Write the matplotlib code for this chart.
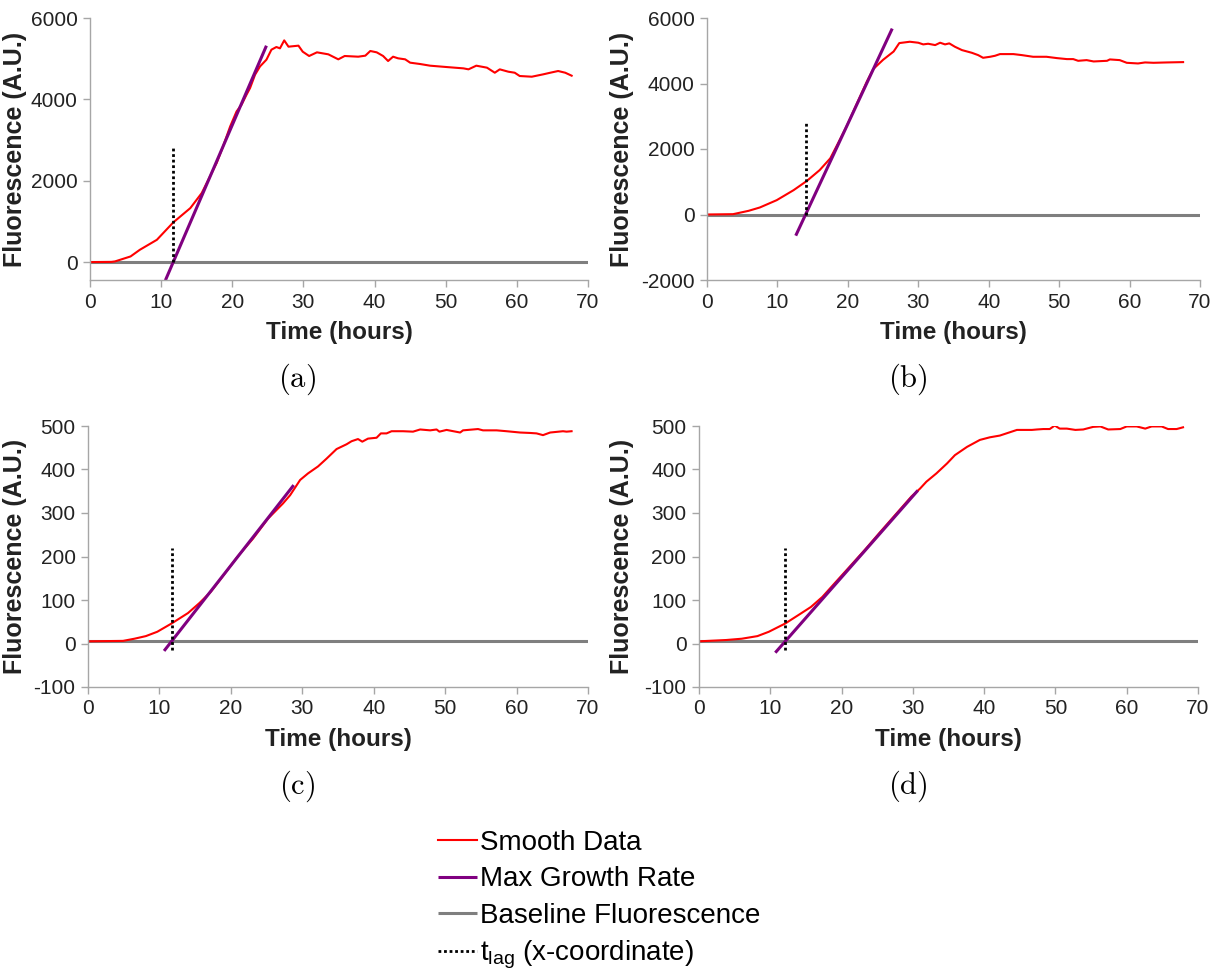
import matplotlib
matplotlib.use("Agg")
import matplotlib.pyplot as plt
import numpy as np

plt.rcParams["font.family"] = ["Liberation Sans", "DejaVu Sans"]
plt.rcParams["axes.unicode_minus"] = False

# smoothed fluorescence traces, read per panel (time in hours, A.U.)
time_a = [0, 3, 3.5, 5.7, 7.0, 9.4, 11.7, 14.1, 15.7, 17.1, 17.8, 18.7, 19.7, 20.6,
          21.3, 22.0, 22.5, 23.2, 23.9, 24.8, 25.5, 26.2, 26.7, 27.3, 27.9, 29.3,
          29.9, 30.8, 31.9, 33.5, 34.9, 35.8, 37.7, 38.7, 39.4, 40.3, 41.2, 41.9,
          42.6, 43.3, 44.3, 45.0, 46.4, 47.8, 50.1, 52.5, 53.2, 54.3, 55.8, 56.9,
          57.6, 58.8, 59.7, 60.4, 62.1, 63.7, 64.7, 65.8, 66.8, 67.7]
fluor_a = [0, 5, 16, 139, 302, 548, 975, 1327, 1696, 2188, 2434, 2843, 3334, 3703,
           3868, 4114, 4279, 4606, 4810, 4975, 5221, 5287, 5254, 5450, 5295, 5320,
           5172, 5066, 5156, 5107, 4984, 5066, 5049, 5074, 5189, 5156, 5066, 4943,
           5049, 5009, 4984, 4902, 4869, 4828, 4795, 4762, 4738, 4828, 4779, 4655,
           4738, 4680, 4655, 4574, 4557, 4615, 4655, 4697, 4655, 4582]

time_b = [0, 3.7, 5.9, 7.5, 9.9, 12.3, 14.2, 16.0, 17.5, 18.6, 19.8, 21.3, 22.7,
          23.6, 25.0, 26.5, 27.3, 28.8, 30.0, 30.7, 31.4, 32.4, 33.1, 33.8, 34.4,
          35.2, 36.2, 37.6, 38.5, 39.2, 40.2, 40.9, 41.6, 43.5, 44.7, 46.3, 48.2,
          49.7, 51.1, 52.0, 52.7, 53.9, 54.9, 56.8, 57.2, 58.6, 59.6, 61.2, 62.2,
          63.4, 65.3, 67.6]
fluor_b = [0, 10, 112, 214, 438, 744, 1029, 1356, 1714, 2173, 2684, 3398, 4059,
           4439, 4723, 4977, 5234, 5275, 5245, 5194, 5214, 5173, 5245, 5194, 5225,
           5122, 5020, 4938, 4867, 4785, 4816, 4847, 4898, 4898, 4867, 4816, 4816,
           4775, 4745, 4745, 4693, 4714, 4673, 4693, 4735, 4714, 4632, 4612, 4643,
           4632, 4643, 4653]

time_c = [0, 4.9, 6.5, 8.1, 9.7, 11.7, 14.0, 15.6, 17.2, 18.8, 20.9, 23.1, 25.2,
          27.3, 28.3, 29.7, 30.8, 32.2, 33.4, 34.8, 36.2, 36.9, 37.8, 38.4, 39.2,
          40.4, 41.0, 41.8, 42.5, 44.1, 45.5, 46.5, 47.9, 48.8, 49.2, 50.2, 52.1,
          52.5, 54.6, 55.3, 57.2, 58.6, 60.5, 61.9, 62.8, 63.7, 64.7, 66.5, 67.0, 67.7]
fluor_c = [5, 6, 11, 17, 27, 46, 70, 93, 119, 153, 199, 241, 287, 322, 341, 376,
           391, 407, 425, 447, 458, 465, 470, 464, 471, 473, 483, 483, 488, 488,
           487, 492, 490, 492, 487, 491, 485, 490, 493, 490, 490, 488, 485, 484,
           483, 479, 485, 488, 487, 488]

time_d = [0, 3.8, 6.0, 8.2, 9.8, 12.1, 14.1, 15.7, 17.3, 19.0, 21.1, 23.3, 25.4,
          27.6, 29.8, 31.0, 31.9, 33.3, 34.8, 35.9, 37.6, 39.4, 40.8, 42.2, 44.6,
          46.7, 47.4, 48.3, 49.2, 49.9, 50.6, 51.6, 52.8, 53.9, 55.3, 56.3, 57.4,
          59.1, 60.0, 61.4, 62.6, 63.5, 64.9, 65.8, 67.0, 67.9]
fluor_d = [5, 8, 11, 17, 27, 46, 67, 84, 107, 138, 176, 216, 256, 297, 338, 356,
           372, 391, 414, 433, 452, 468, 474, 478, 491, 491, 492, 493, 493, 501,
           494, 494, 491, 492, 498, 499, 492, 493, 499, 499, 494, 499, 499, 493,
           493, 497]

# fitted parameters per panel
baseline = [0, 0, 5, 5]
max_rate = [406, 461.5, 21.0, 18.65]          # A.U. per hour
t_lag = [11.7, 14.0, 11.7, 12.1]
fit_span = [(10.6, 24.8), (12.6, 26.3), (10.65, 28.8), (10.7, 30.7)]
lag_marker = [(0, 2850), (0, 2800), (-15, 220), (-15, 220)]

y_limits = [(-440, 6000), (-2000, 6000), (-100, 500), (-100, 500)]
y_ticks = [[0, 2000, 4000, 6000], list(range(-2000, 6001, 2000)),
           list(range(-100, 501, 100)), list(range(-100, 501, 100))]
x_ticks = list(range(0, 71, 10))
captions = ["(a)", "(b)", "(c)", "(d)"]

traces = [(time_a, fluor_a), (time_b, fluor_b), (time_c, fluor_c), (time_d, fluor_d)]

W, H = 1217, 974
fig = plt.figure(figsize=(W / 100, H / 100), dpi=100)

# axes boxes in pixels: left, right, top, bottom
boxes = [(90, 588, 18, 280), (707, 1200, 18, 280),
         (88, 588, 426, 687), (699, 1198, 426, 687)]
ylabel_x = [27, 634, 27, 634]
caption_pos = [(297, 379), (908, 379), (297, 786), (908, 786)]

RED = "#ff0000"
PURPLE = "#800080"
GREY = "#7f7f7f"
SPINE = "#a6a6a6"

handles = None
for i, ax_box in enumerate(boxes):
    l, r, t, b = ax_box
    ax = fig.add_axes([l / W, 1 - b / H, (r - l) / W, (b - t) / H])
    tt, ff = traces[i]

    base, = ax.plot([0, 70], [baseline[i], baseline[i]], color=GREY, lw=2.2,
                    solid_capstyle="butt")
    smooth, = ax.plot(tt, ff, color=RED, lw=1.5)
    fit_t = np.array(fit_span[i])
    fit_y = baseline[i] + max_rate[i] * (fit_t - t_lag[i])
    fit, = ax.plot(fit_t, fit_y, color=PURPLE, lw=2.2, solid_capstyle="butt")
    lag, = ax.plot([t_lag[i], t_lag[i]], lag_marker[i], color="black", lw=2,
                   linestyle=(0, (1, 1)))
    if handles is None:
        handles = [smooth, fit, base, lag]

    ax.set_xlim(0, 70)
    ax.set_ylim(*y_limits[i])
    ax.set_xticks(x_ticks)
    ax.set_yticks(y_ticks[i])
    for side in ("top", "right"):
        ax.spines[side].set_visible(False)
    for side in ("left", "bottom"):
        ax.spines[side].set_color(SPINE)
        ax.spines[side].set_linewidth(1)
    ax.tick_params(direction="out", length=5, width=1, color=SPINE,
                   labelsize=15, labelcolor="#222222", pad=4)

    ax.set_xlabel("Time (hours)", fontsize=17.5, fontweight="bold",
                  color="#222222", labelpad=7)
    ax.set_ylabel("Fluorescence (A.U.)", fontsize=18, fontweight="bold",
                  color="#222222")
    ax.yaxis.set_label_coords((ylabel_x[i] - l) / (r - l), 0.5)

    cx, cy = caption_pos[i]
    fig.text(cx / W, 1 - cy / H, r"$\mathrm{" + captions[i] + "}$",
             math_fontfamily="cm", fontsize=22, ha="center", va="center")

labels = ["Smooth Data", "Max Growth Rate", "Baseline Fluorescence",
          r"$\mathregular{t_{lag}}$ (x-coordinate)"]
fig.legend(handles, labels, loc="upper left",
           bbox_to_anchor=(438 / W, 1 - 830 / H), frameon=False, fontsize=20,
           handlelength=1.4, handletextpad=0.1, labelspacing=0.37,
           borderpad=0, borderaxespad=0)

fig.savefig("out.png", dpi=100)
